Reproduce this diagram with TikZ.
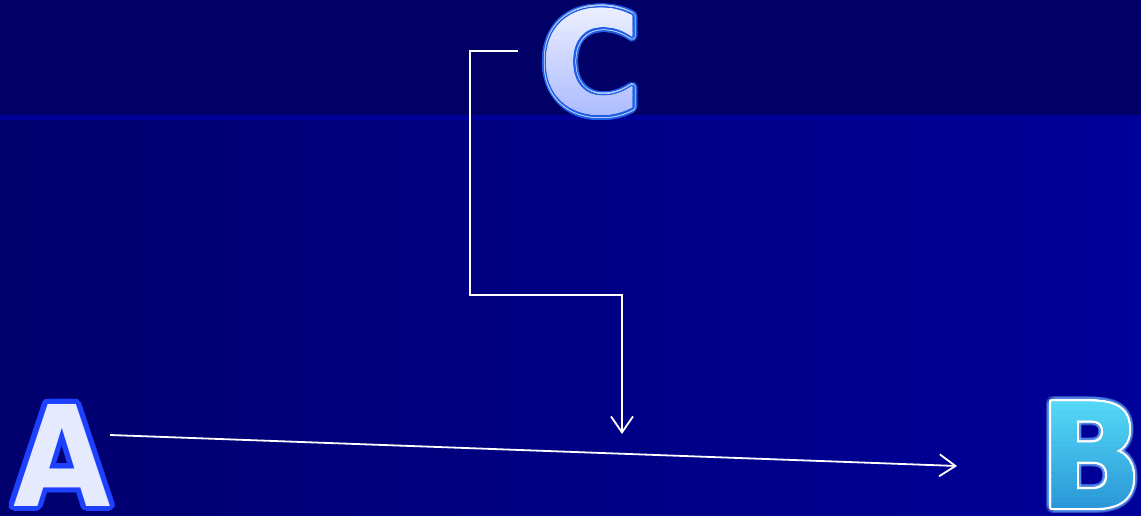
\documentclass[tikz,border=0pt]{standalone}
\usepackage{fontspec}
\setmainfont{DejaVu Sans}
\usetikzlibrary{calc,arrows.meta}
\definecolor{bgtop}{HTML}{000066}
\definecolor{bgline}{HTML}{000099}
\definecolor{bgleft}{HTML}{00006E}
\definecolor{bgright}{HTML}{00009A}
\definecolor{Afill}{HTML}{E6EAFF}
\definecolor{Aline}{HTML}{1E40FF}
\definecolor{Cline}{HTML}{1F5FE6}
\definecolor{Ctop}{HTML}{EEF0FF}
\definecolor{Cbot}{HTML}{A8B8FF}
\definecolor{Btop}{HTML}{58DDF8}
\definecolor{Bbot}{HTML}{2894D6}
\definecolor{Bglow}{HTML}{6FB8FF}
\newcommand\bigA{\fontsize{140}{140}\selectfont\bfseries\scalebox{0.9}[1]{A}}
\newcommand\bigB{\fontsize{146}{146}\selectfont\bfseries\scalebox{0.93}[1]{B}}
\newcommand\bigC{\fontsize{142}{142}\selectfont\bfseries\scalebox{0.98}[1]{C}}
\begin{document}
\begin{tikzpicture}[x=1pt,y=-1pt,
  ltr/.style={inner sep=0pt, anchor=center},
  conn/.style={draw=white, line width=1.8pt, -{Straight Barb[length=16pt,width=22pt,line width=1.8pt]}}]
\useasboundingbox (0,0) rectangle (1141,516);
% background
\fill[bgtop] (0,0) rectangle (1141,117);
\shade[left color=bgleft, right color=bgright] (0,117) rectangle (1141,516);
\fill[bgline] (0,115) rectangle (1141,120);
% letter A
\foreach \ang in {0,15,...,345}
  \node[ltr, text=Aline] at ($(62,455)+(\ang:5)$) {\bigA};
\node[ltr, text=Afill] (A) at (62,455) {\bigA};
% letter B
\foreach \ang in {0,20,...,340}
  \node[ltr, text=Bglow, opacity=0.25] at ($(1091,455)+(\ang:5)$) {\bigB};
\foreach \ang in {0,15,...,345}
  \node[ltr, text=white] at ($(1091,455)+(\ang:2.2)$) {\bigB};
\node[ltr, text=Btop!50!Bbot] (B) at (1091,455) {\bigB};
\foreach \i in {0,...,19} {
  \pgfmathsetmacro\pc{100-\i*100/19}
  \begin{scope}
    \clip (1030,{392+\i*6.2}) rectangle (1141,{392+(\i+1)*6.2+0.5});
    \node[ltr, text=Btop!\pc!Bbot] at (1091,455) {\bigB};
  \end{scope}
}
% letter C
\foreach \ang in {0,15,...,345}
  \node[ltr, text=Cline] at ($(591,62)+(\ang:4.5)$) {\bigC};
\foreach \ang in {0,15,...,345}
  \node[ltr, text=Ctop!70!Cline] at ($(591,62)+(\ang:2.8)$) {\bigC};
\foreach \ang in {0,15,...,345}
  \node[ltr, text=Cline] at ($(591,62)+(\ang:1.6)$) {\bigC};
\node[ltr, text=Ctop!60!Cbot] (C) at (591,62) {\bigC};
\foreach \i in {0,...,19} {
  \pgfmathsetmacro\pc{100-\i*100/19}
  \begin{scope}
    \clip (530,{2+\i*6.2}) rectangle (660,{2+(\i+1)*6.2+0.5});
    \node[ltr, text=Ctop!\pc!Cbot] at (591,62) {\bigC};
  \end{scope}
}
% connectors
\coordinate (a1) at (110,435);
\coordinate (b1) at (957,466);
\coordinate (c1) at (518,51);
\coordinate (c2) at (470,51);
\coordinate (c3) at (470,295);
\coordinate (c4) at (622,295);
\coordinate (c5) at (622,434);
\draw[conn] (a1) -- (b1);
\draw[conn] (c1) -- (c2) -- (c3) -- (c4) -- (c5);
\end{tikzpicture}
\end{document}
